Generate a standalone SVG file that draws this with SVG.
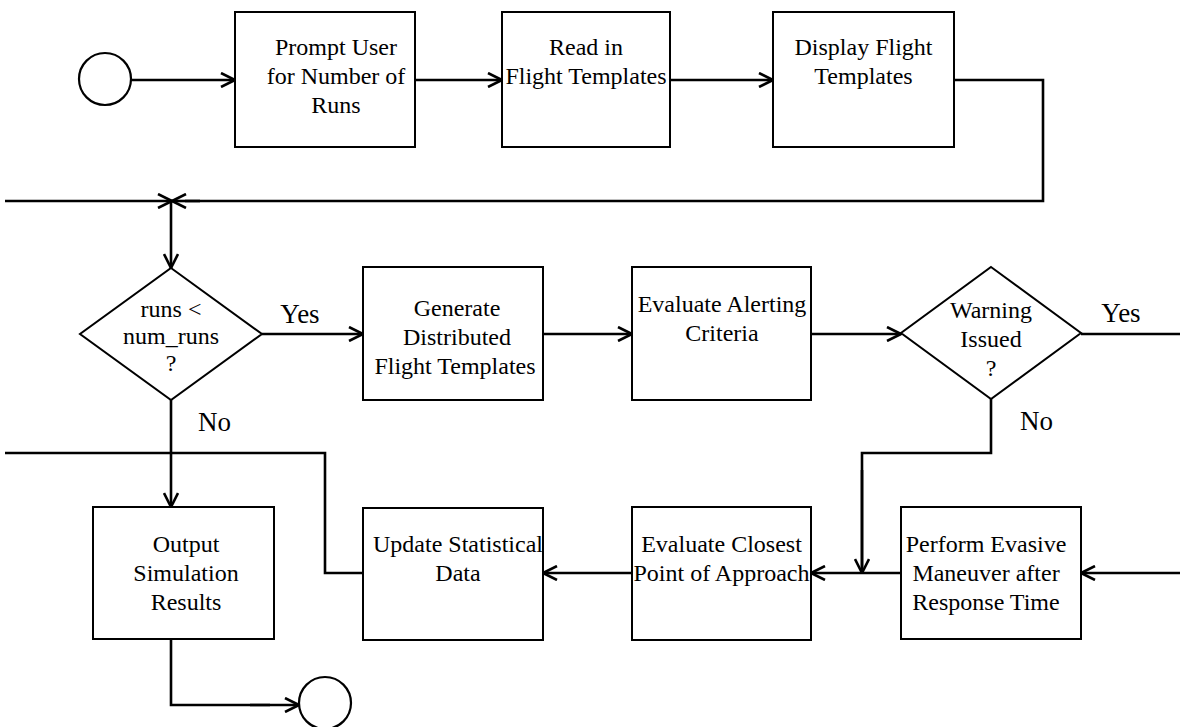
<svg xmlns="http://www.w3.org/2000/svg" width="1180" height="727" viewBox="0 0 1180 727">
<style>
.bx{fill:#fff;stroke:#000;stroke-width:2}
.dm{fill:#fff;stroke:#000;stroke-width:2}
.term{fill:#fff;stroke:#000;stroke-width:2.2}
.t{font-family:"Liberation Serif","Times New Roman",serif;font-size:24px;fill:#000;text-anchor:middle}
.lbl{font-family:"Liberation Serif","Times New Roman",serif;font-size:27px;fill:#000}
.cn{fill:none;stroke:#000;stroke-width:2.6}
.ar{marker-end:url(#ah)}
</style>
<defs>
<marker id="ah" markerUnits="userSpaceOnUse" viewBox="0 0 16 16" refX="15" refY="8" markerWidth="16" markerHeight="16" orient="auto">
<path d="M1,1 L15,8 L1,15" fill="none" stroke="#000" stroke-width="2.6"/>
</marker>
</defs>
<rect width="1180" height="727" fill="#fff"/>
<g id="connectors">
<line class="cn ar" x1="131" y1="80" x2="235" y2="80"/>
<line class="cn ar" x1="415" y1="80" x2="502" y2="80"/>
<line class="cn ar" x1="670" y1="80" x2="773" y2="80"/>
<polyline class="cn" points="954,80 1043,80 1043,201 185,201"/>
<line class="cn ar" x1="200" y1="201" x2="172" y2="201"/>
<line class="cn ar" x1="5" y1="201" x2="172" y2="201"/>
<line class="cn ar" x1="171" y1="201" x2="171" y2="268"/>
<line class="cn ar" x1="262" y1="334" x2="363" y2="334"/>
<line class="cn ar" x1="543" y1="334" x2="632" y2="334"/>
<line class="cn ar" x1="811" y1="334" x2="901" y2="334"/>
<line class="cn" x1="1081" y1="334" x2="1180" y2="334"/>
<line class="cn ar" x1="171" y1="400" x2="171" y2="507"/>
<polyline class="cn" points="5,453 325,453 325,573 363,573"/>
<polyline class="cn" points="991,399 991,453 862,453 862,573"/>
<line class="cn ar" x1="862" y1="470" x2="862" y2="573"/>
<line class="cn ar" x1="901" y1="573" x2="811" y2="573"/>
<line class="cn ar" x1="632" y1="573" x2="543" y2="573"/>
<line class="cn ar" x1="1180" y1="573" x2="1081" y2="573"/>
<polyline class="cn" points="171,639 171,705 270,705"/>
<line class="cn ar" x1="250" y1="705" x2="299" y2="705"/>
</g>
<g id="start"><circle class="term" cx="105" cy="79" r="26"/></g>
<g id="prompt"><rect class="bx" x="235" y="12" width="180" height="135"/>
<text class="t" x="336" y="55">Prompt User</text><text class="t" x="336" y="84">for Number of</text><text class="t" x="336" y="113">Runs</text></g>
<g id="read"><rect class="bx" x="502" y="12" width="168" height="135"/>
<text class="t" x="586" y="55">Read in</text><text class="t" x="586" y="84">Flight Templates</text></g>
<g id="display"><rect class="bx" x="773" y="12" width="181" height="135"/>
<text class="t" x="863.5" y="55">Display Flight</text><text class="t" x="863.5" y="84">Templates</text></g>
<g id="decision-runs"><polygon class="dm" points="171,268 262,334 171,400 80,334"/>
<text class="t" x="171" y="317">runs &lt;</text><text class="t" x="171" y="344">num_runs</text><text class="t" x="171" y="371">?</text></g>
<text class="lbl" x="300" y="323" text-anchor="middle">Yes</text>
<text class="lbl" x="198" y="431">No</text>
<g id="generate"><rect class="bx" x="363" y="267" width="180" height="133"/>
<text class="t" x="457" y="316">Generate</text><text class="t" x="457" y="345">Distributed</text><text class="t" x="455" y="374">Flight Templates</text></g>
<g id="alerting"><rect class="bx" x="632" y="267" width="179" height="133"/>
<text class="t" x="722" y="312">Evaluate Alerting</text><text class="t" x="722" y="341">Criteria</text></g>
<g id="decision-warning"><polygon class="dm" points="991,267 1081,333 991,399 901,333"/>
<text class="t" x="991" y="318">Warning</text><text class="t" x="991" y="347">Issued</text><text class="t" x="991" y="376">?</text></g>
<text class="lbl" x="1121" y="322" text-anchor="middle">Yes</text>
<text class="lbl" x="1020" y="430">No</text>
<g id="output"><rect class="bx" x="93" y="507" width="181" height="132"/>
<text class="t" x="186" y="552">Output</text><text class="t" x="186" y="581">Simulation</text><text class="t" x="186" y="610">Results</text></g>
<g id="update"><rect class="bx" x="363" y="508" width="180" height="132"/>
<text class="t" x="458" y="552">Update Statistical</text><text class="t" x="458" y="581">Data</text></g>
<g id="closest"><rect class="bx" x="632" y="507" width="179" height="133"/>
<text class="t" x="721.5" y="552">Evaluate Closest</text><text class="t" x="721.5" y="581">Point of Approach</text></g>
<g id="evasive"><rect class="bx" x="901" y="507" width="180" height="132"/>
<text class="t" x="986" y="552">Perform Evasive</text><text class="t" x="986" y="581">Maneuver after</text><text class="t" x="986" y="610">Response Time</text></g>
<g id="end"><circle class="term" cx="325" cy="703" r="26"/></g>
</svg>
